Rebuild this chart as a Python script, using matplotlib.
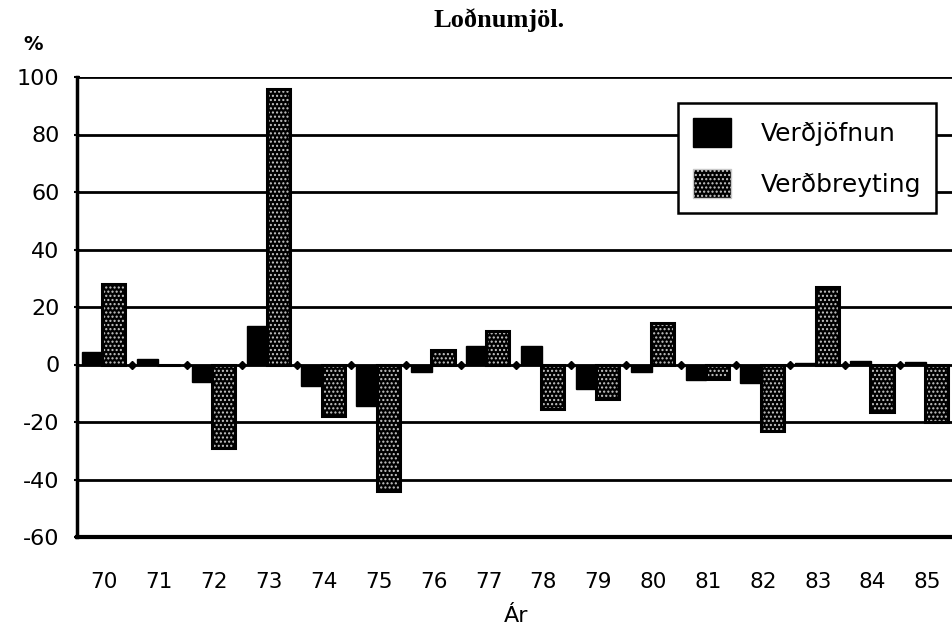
import matplotlib
matplotlib.use("Agg")
import matplotlib.pyplot as plt
import numpy as np
from matplotlib.patches import Patch

years = ["70", "71", "72", "73", "74", "75", "76", "77", "78", "79", "80", "81", "82", "83", "84", "85"]
verdjofnun = [4.5, 2, -6, 13.5, -7.5, -14.5, -2.5, 6.5, 6.5, -8.5, -2.5, -5.5, -6.5, 0.5, 1.2, 1.0]
verdbreyting = [28, 0, -29, 96, -18, -44, 5, 11.5, -15.5, -12, 14.5, -5, -23, 27, -16.5, -20]
yticks = [-60, -40, -20, 0, 20, 40, 60, 80, 100]

plt.rcParams['font.family'] = ['DejaVu Sans']
plt.rcParams['hatch.linewidth'] = 1.0
fig = plt.figure(figsize=(9.52, 6.35), dpi=100)
ax = fig.add_axes([77/952, 98/635, (955-77)/952, (537-77)/635])

n = len(years)
x = np.arange(n)
ax.bar(x + 0.09, verdjofnun, width=0.38, align='edge', color='black', edgecolor='black',
       linewidth=1, zorder=3)
ax.bar(x + 0.46, verdbreyting, width=0.42, align='edge', color='black', edgecolor='#c8c8c8',
       hatch='....', linewidth=0, zorder=3)
ax.bar(x + 0.46, verdbreyting, width=0.42, align='edge', fill=False, edgecolor='black',
       linewidth=2.2, zorder=4)

ax.set_xlim(0, n)
ax.set_ylim(-60, 100)
ax.set_yticks(yticks)
ax.set_yticklabels([str(v) for v in yticks], fontsize=16)
ax.set_xticks(x + 0.5)
ax.set_xticklabels(years, fontsize=15.5)
ax.tick_params(axis='x', length=0, pad=25)
ax.tick_params(axis='y', length=5, width=1.5, direction='inout', pad=10)
for v in yticks:
    ax.axhline(v, color='black', linewidth=2, zorder=2)
ax.plot(x[1:], np.zeros(n - 1), linestyle='none', marker='D', markersize=4,
        color='black', zorder=5)

for s in ['top', 'right']:
    ax.spines[s].set_visible(False)
ax.spines['left'].set_linewidth(2.5)
ax.spines['bottom'].set_linewidth(3)

fig.text(499/952, 1 - 8/635, "Loðnumjöl.", ha='center', va='top', fontsize=19,
         fontweight='bold', family='Liberation Serif')
fig.text(33/952, 1 - 45/635, "%", ha='center', va='center', fontsize=14, fontweight='bold')
ax.set_xlabel("Ár", fontsize=16, labelpad=10)

handles = [Patch(facecolor='black', edgecolor='black', label='Verðjöfnun'),
           Patch(facecolor='black', edgecolor='#c8c8c8', hatch='....', label='Verðbreyting')]
leg = ax.legend(handles=handles, loc='upper left', bbox_to_anchor=((678-77)/(955-77), 1 - (103-77)/460),
                fontsize=18, frameon=True, fancybox=False, edgecolor='black', framealpha=1,
                handlelength=1.5, handleheight=1.4, borderpad=0.6, labelspacing=0.9,
                handletextpad=1.2, borderaxespad=0)
leg.get_frame().set_linewidth(1.8)
leg.set_zorder(10)

fig.savefig("out.png", dpi=100)
